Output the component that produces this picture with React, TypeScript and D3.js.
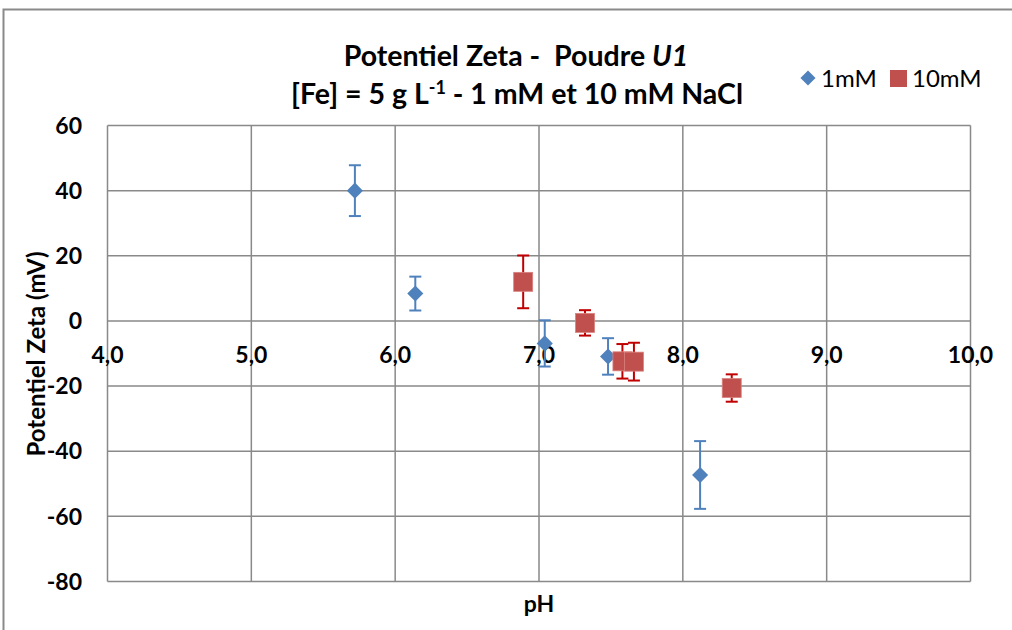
import React from "react";
import * as d3 from "d3";

const xTicks = [4, 5, 6, 7, 8, 9, 10];
const yTicks = [60, 40, 20, 0, -20, -40, -60, -80];

const ph1mM = [5.72, 6.14, 7.04, 7.48, 8.12];
const zeta1mM = [40, 8.4, -6.9, -10.9, -47.3];
const err1mM = [7.8, 5.2, 7.1, 5.6, 10.4];

const ph10mM = [6.89, 7.32, 7.58, 7.66, 8.34];
const zeta10mM = [12, -0.6, -12.4, -12.5, -20.6];
const err10mM = [8.1, 3.9, 5.3, 5.8, 4.2];

const FONT = "Lato, 'Open Sans', sans-serif";

export default function App() {
  const W = 1012, H = 630;
  const x = d3.scaleLinear().domain([4, 10]).range([107.5, 970.5]);
  const y = d3.scaleLinear().domain([-80, 60]).range([581.5, 125.5]);
  const grid = "#898989";
  const blue = "#4F81BD";
  const red = "#C0504D";
  const blueErr = "#4F81BD";
  const redErr = "#C00000";
  const cap = 6;
  const dia = d3.symbolDiamond2 ?? d3.symbolDiamond;
  const diamond = d3.symbol().type(dia).size(165)();

  const s1 = ph1mM.map((p, i) => ({ p, z: zeta1mM[i], e: err1mM[i] }));
  const s2 = ph10mM.map((p, i) => ({ p, z: zeta10mM[i], e: err10mM[i] }));

  return (
    <svg width={W} height={H} style={{ position: "absolute", left: 0, top: 0 }} fontFamily={FONT}>
      <rect width={W} height={H} fill="#fff" />
      <path d={`M3.5,${H} V9.5 H${W}`} fill="none" stroke="#8a8a8a" strokeWidth={2} />
      {xTicks.map((t) => (
        <line key={"gx" + t} x1={x(t)} x2={x(t)} y1={y(60)} y2={y(-80)} stroke={grid} strokeWidth={1.5} />
      ))}
      {yTicks.map((t) => (
        <line key={"gy" + t} x1={x(4)} x2={x(10)} y1={y(t)} y2={y(t)} stroke={grid} strokeWidth={1.5} />
      ))}
      {yTicks.map((t) => (
        <text key={"ly" + t} x={82} y={y(t)} dy="0.36em" textAnchor="end" fontSize={23} fontWeight="bold" fill="#000">
          {t}
        </text>
      ))}
      {xTicks.map((t) => (
        <text key={"lx" + t} x={x(t)} y={y(0) + 42} textAnchor="middle" fontSize={23} fontWeight="bold" fill="#000">
          {d3.format(".1f")(t).replace(".", ",")}
        </text>
      ))}
      {s1.map((d, i) => (
        <g key={"e1" + i} stroke={blueErr} strokeWidth={2}>
          <line x1={x(d.p)} x2={x(d.p)} y1={y(d.z + d.e)} y2={y(d.z - d.e)} />
          <line x1={x(d.p) - cap} x2={x(d.p) + cap} y1={y(d.z + d.e)} y2={y(d.z + d.e)} />
          <line x1={x(d.p) - cap} x2={x(d.p) + cap} y1={y(d.z - d.e)} y2={y(d.z - d.e)} />
        </g>
      ))}
      {s1.map((d, i) => (
        <path key={"m1" + i} d={diamond} transform={`translate(${x(d.p)},${y(d.z)})`} fill={blue} />
      ))}
      {s2.map((d, i) => (
        <g key={"e2" + i} stroke={redErr} strokeWidth={2}>
          <line x1={x(d.p)} x2={x(d.p)} y1={y(d.z + d.e)} y2={y(d.z - d.e)} />
          <line x1={x(d.p) - cap} x2={x(d.p) + cap} y1={y(d.z + d.e)} y2={y(d.z + d.e)} />
          <line x1={x(d.p) - cap} x2={x(d.p) + cap} y1={y(d.z - d.e)} y2={y(d.z - d.e)} />
        </g>
      ))}
      {s2.map((d, i) => (
        <rect key={"m2" + i} x={x(d.p) - 9.5} y={y(d.z) - 9.5} width={19} height={19} fill={red} stroke="#d9827f" strokeWidth={0.8} />
      ))}
      <text x={516} y={66} textAnchor="middle" fontSize={28.5} fontWeight="bold" fill="#000">
        Potentiel Zeta -{"\u00a0\u00a0"}Poudre <tspan fontStyle="italic">U1</tspan>
      </text>
      <text x={517} y={104} textAnchor="middle" fontSize={28.5} fontWeight="bold" fill="#000">
        [Fe] = 5 g L<tspan dy={-10} fontSize={18}>-1</tspan>
        <tspan dy={10}> - 1 mM et 10 mM NaCl</tspan>
      </text>
      <text x={539} y={612} textAnchor="middle" fontSize={23} fontWeight="bold" fill="#000">pH</text>
      <text transform="translate(45,354) rotate(-90)" textAnchor="middle" fontSize={24} fontWeight="bold" fill="#000">
        Potentiel Zeta (mV)
      </text>
      <path d={d3.symbol().type(dia).size(145)()} transform="translate(808,78)" fill={blue} />
      <text x={821} y={87} fontSize={24} fill="#000">1mM</text>
      <rect x={890} y={70} width={17} height={17} fill={red} />
      <text x={912} y={87} fontSize={24} fill="#000">10mM</text>
    </svg>
  );
}
